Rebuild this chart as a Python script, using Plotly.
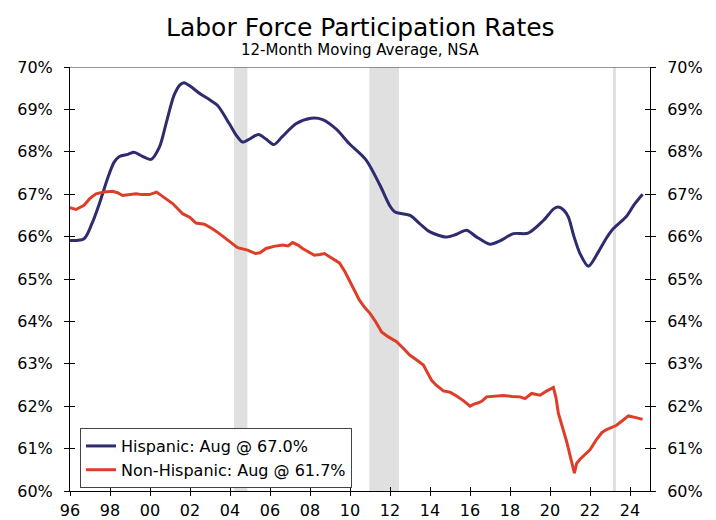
import plotly.graph_objects as go

# ---------------- data ----------------
hisp_year = [1996.0, 1996.7, 1997.1, 1997.47, 1997.9, 1998.2, 1998.47, 1998.9, 1999.2, 1999.6,
             2000.05, 2000.47, 2000.8, 2001.2, 2001.5, 2001.7, 2002.0, 2002.47, 2003.0, 2003.38,
             2003.97, 2004.3, 2004.63, 2004.9, 2005.43, 2005.8, 2006.2, 2006.6, 2007.3, 2008.05,
             2008.63, 2009.3, 2009.97, 2010.8, 2011.5, 2012.0, 2012.25, 2013.0, 2013.5, 2014.0,
             2014.83, 2015.3, 2015.83, 2016.3, 2017.0, 2017.5, 2018.17, 2018.9, 2019.67, 2020.2,
             2020.42, 2020.7, 2020.92, 2021.2, 2021.5, 2021.92, 2022.42, 2022.8, 2023.17, 2023.83,
             2024.2, 2024.63]
hisp_val = [65.91, 65.95, 66.31, 66.78, 67.40, 67.75, 67.89, 67.94, 67.99, 67.90,
            67.82, 68.11, 68.66, 69.33, 69.58, 69.63, 69.55, 69.38, 69.22, 69.09,
            68.66, 68.40, 68.23, 68.28, 68.41, 68.30, 68.17, 68.35, 68.66, 68.79,
            68.76, 68.54, 68.19, 67.81, 67.21, 66.72, 66.58, 66.50, 66.30, 66.11,
            65.99, 66.05, 66.15, 66.00, 65.82, 65.90, 66.07, 66.08, 66.38, 66.66,
            66.70, 66.62, 66.46, 66.00, 65.60, 65.30, 65.64, 65.95, 66.19, 66.48,
            66.75, 67.00]

nonhisp_year = [1996.0, 1996.3, 1996.7, 1997.0, 1997.3, 1997.7, 1998.13, 1998.4, 1998.63, 1999.0,
                1999.3, 1999.6, 1999.97, 2000.33, 2000.7, 2001.13, 2001.4, 2001.63, 2002.0, 2002.3,
                2002.72, 2003.1, 2003.47, 2003.9, 2004.38, 2004.88, 2005.27, 2005.5, 2005.8, 2006.2,
                2006.63, 2006.9, 2007.13, 2007.4, 2007.63, 2008.0, 2008.22, 2008.5, 2008.72, 2009.0,
                2009.47, 2009.75, 2009.97, 2010.2, 2010.47, 2010.75, 2011.0, 2011.3, 2011.58, 2011.9,
                2012.33, 2012.7, 2013.0, 2013.3, 2013.67, 2014.08, 2014.3, 2014.67, 2015.0, 2015.33,
                2015.7, 2016.0, 2016.2, 2016.42, 2016.6, 2016.83, 2017.2, 2017.67, 2018.1, 2018.5,
                2018.75, 2019.08, 2019.5, 2019.8, 2020.17, 2020.3, 2020.42, 2020.83, 2021.22, 2021.33,
                2021.5, 2021.75, 2022.0, 2022.33, 2022.6, 2022.83, 2023.33, 2023.6, 2023.92, 2024.3,
                2024.63]
nonhisp_val = [66.68, 66.64, 66.74, 66.90, 67.01, 67.05, 67.07, 67.03, 66.97, 67.00,
               67.01, 66.99, 66.99, 67.05, 66.93, 66.78, 66.65, 66.54, 66.45, 66.32,
               66.29, 66.19, 66.07, 65.92, 65.74, 65.68, 65.60, 65.62, 65.72, 65.77,
               65.80, 65.78, 65.86, 65.80, 65.72, 65.62, 65.56, 65.58, 65.60, 65.52,
               65.38, 65.17, 64.97, 64.76, 64.50, 64.32, 64.19, 63.98, 63.75, 63.64,
               63.52, 63.35, 63.20, 63.10, 62.97, 62.61, 62.50, 62.36, 62.33, 62.24,
               62.12, 62.00, 62.05, 62.08, 62.12, 62.22, 62.24, 62.25, 62.23, 62.22,
               62.18, 62.30, 62.26, 62.35, 62.44, 62.20, 61.83, 61.17, 60.42, 60.65,
               60.75, 60.85, 60.97, 61.22, 61.38, 61.45, 61.55, 61.65, 61.77, 61.73,
               61.69]

shade_start = [2004.2, 2010.97, 2023.15]
shade_end = [2004.87, 2012.45, 2023.3]

x_tick_years = list(range(1996, 2025, 2))
x_tick_labels = ["96", "98", "00", "02", "04", "06", "08", "10", "12", "14", "16", "18", "20", "22", "24"]
y_tick_vals = list(range(60, 71))
y_tick_labels = [f"{v}%" for v in y_tick_vals]

series_names = ["Hispanic: Aug @ 67.0%", "Non-Hispanic: Aug @ 61.7%"]

BLUE = "#2e2b6f"
RED = "#de3d27"
FONT = "DejaVu Sans"

fig = go.Figure()
fig.add_trace(go.Scatter(x=hisp_year, y=hisp_val, mode="lines", name=series_names[0],
                         line=dict(color=BLUE, width=3, shape="spline", smoothing=0.8)))
fig.add_trace(go.Scatter(x=nonhisp_year, y=nonhisp_val, mode="lines", name=series_names[1],
                         line=dict(color=RED, width=3)))
# empty helper traces so the overlay axes (crossing ticks / right axis) are active
for xa, ya in [("x2", "y"), ("x", "y2"), ("x", "y3"), ("x", "y4")]:
    fig.add_trace(go.Scatter(x=[], y=[], xaxis=xa, yaxis=ya, showlegend=False,
                             hoverinfo="skip", mode="lines"))

shapes = []
for s, e in zip(shade_start, shade_end):
    shapes.append(dict(type="rect", xref="x", yref="paper", x0=s, x1=e, y0=0, y1=1,
                       fillcolor="#e0e0e0", line=dict(width=0), layer="below"))
shapes.append(dict(type="line", xref="paper", yref="y", x0=0, x1=1, y0=70, y1=70,
                   line=dict(color="#707070", width=1.5)))

xr = [1996, 2025]
yr = [60, 70]
common_x = dict(range=xr, tickmode="array", tickvals=x_tick_years, showgrid=False,
                zeroline=False, tickcolor="black", tickwidth=1, ticklen=4, automargin=False)
common_y = dict(range=yr, tickmode="array", tickvals=y_tick_vals, showgrid=False,
                zeroline=False, tickcolor="black", tickwidth=1, ticklen=5, automargin=False)

# page body has an 8px margin, so the figure is 708x512 to fill the 716x520 window
fig.update_layout(
    width=708, height=512,
    margin=dict(l=62, r=66, t=58.5, b=29, autoexpand=False),
    paper_bgcolor="white", plot_bgcolor="white",
    font=dict(family=FONT, size=16, color="black"),
    showlegend=True,
    legend=dict(x=0.0172, y=0.007, xanchor="left", yanchor="bottom",
                bgcolor="white", bordercolor="#444444", borderwidth=1,
                font=dict(size=16, family=FONT), itemwidth=30, tracegroupgap=0),
    xaxis=dict(**common_x, ticktext=x_tick_labels, ticks="outside", showline=True,
               linecolor="black", linewidth=1, tickfont=dict(size=16), ticklabelstandoff=1),
    xaxis2=dict(**common_x, overlaying="x", anchor="y", side="bottom", ticks="inside",
                showticklabels=False, showline=False),
    yaxis=dict(**common_y, ticktext=y_tick_labels, ticks="outside", showline=True,
               linecolor="black", linewidth=1, side="left", tickfont=dict(size=16),
               ticklabelstandoff=8),
    yaxis2=dict(**common_y, ticktext=y_tick_labels, ticks="outside", showline=True,
                linecolor="black", linewidth=1, side="right", overlaying="y", anchor="x",
                tickfont=dict(size=16), ticklabelstandoff=8),
    yaxis3=dict(**common_y, overlaying="y", side="left", anchor="x", ticks="inside",
                showticklabels=False, showline=False),
    yaxis4=dict(**common_y, overlaying="y", side="right", anchor="x", ticks="inside",
                showticklabels=False, showline=False),
    shapes=shapes,
    annotations=[
        dict(text="Labor Force Participation Rates", xref="paper", yref="paper",
             x=0.5, y=1.0935, xanchor="center", yanchor="middle", showarrow=False,
             font=dict(size=25, family=FONT, color="black")),
        dict(text="12-Month Moving Average, NSA", xref="paper", yref="paper",
             x=0.5, y=1.0412, xanchor="center", yanchor="middle", showarrow=False,
             font=dict(size=15, family=FONT, color="black")),
    ],
)

fig.write_html("out.html")
